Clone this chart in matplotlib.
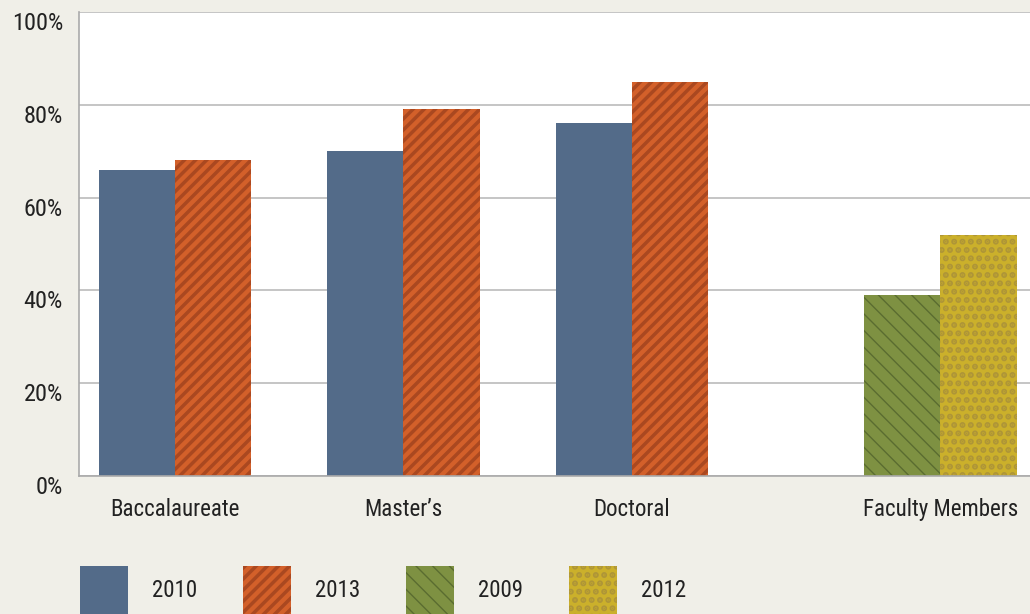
import matplotlib
matplotlib.use("Agg")
import os
import matplotlib.pyplot as plt
import matplotlib.transforms as mtransforms
from matplotlib import font_manager

# ---------------- data ----------------
categories = ["Baccalaureate", "Master\u2019s", "Doctoral", "Faculty Members"]
student_cats = ["Baccalaureate", "Master\u2019s", "Doctoral"]
faculty_cats = ["Faculty Members"]
values_2010 = [66, 70, 76]
values_2013 = [68, 79, 85]
values_2009 = [39]
values_2012 = [52]
series_labels = ["2010", "2013", "2009", "2012"]
y_ticks = [0, 20, 40, 60, 80, 100]

# ---------------- fonts ----------------
files = [f.fname for f in font_manager.fontManager.ttflist]
prefs = ["robotocondensed-regular", "roboto_condensed-regular", "liberationsansnarrow-regular",
         "opensans_condensed-regular", "opensans-condensed", "notosans-condensed.",
         "dejavusanscondensed.ttf"]
chosen = None
for p in prefs:
    for fn in files:
        if p in os.path.basename(fn).lower():
            chosen = fn
            break
    if chosen:
        break
if chosen is None:
    for fn in files:
        b = os.path.basename(fn).lower()
        if ("condensed" in b or "narrow" in b) and not any(k in b for k in ["bold", "italic", "light", "oblique", "thin", "black", "medium", "semi", "extra"]):
            chosen = fn
            break
FS = 16.5
FSPX = FS * 100 / 72
def fp(size=FS):
    if chosen:
        return font_manager.FontProperties(fname=chosen, size=size)
    return font_manager.FontProperties(family="DejaVu Sans", stretch="condensed", size=size)

BG = "#F0EFE8"
TXT = "#222222"
C2010 = "#536B89"
C2013 = "#D3602A"
C2013H = "#AA4820"
C2009 = "#7E9142"
C2009H = "#5A6C30"
C2012 = "#CBB02B"
C2012H = "#AE9538"

W, H = 1030, 614
fig = plt.figure(figsize=(W / 100, H / 100), dpi=100, facecolor=BG)
ax = fig.add_axes([79 / W, 1 - 476 / H, 1 - 79 / W, (476 - 12) / H])
ax.set_facecolor("white")

cat_pos = {"Baccalaureate": 0.0, "Master\u2019s": 1.0, "Doctoral": 2.0, "Faculty Members": 3.35}
bw = 0.333
HLW = [1.0, 2.5, 1.0, 3.0]

def hbars(x, h, color, hatch, hcolor, hlw, label):
    with plt.rc_context({"hatch.linewidth": hlw}):
        bars = ax.bar(x, h, width=bw, color=color, edgecolor=hcolor if hatch else color,
                      linewidth=0, hatch=hatch, label=label, zorder=3)
    for b in bars:
        if hasattr(b, "set_hatch_linewidth"):
            b.set_hatch_linewidth(hlw)
    return bars

sx = [cat_pos[c] for c in student_cats]
fx = [cat_pos[c] for c in faculty_cats]
b1 = hbars([p - bw / 2 for p in sx], values_2010, C2010, None, None, HLW[0], series_labels[0])
b2 = hbars([p + bw / 2 for p in sx], values_2013, C2013, "///", C2013H, HLW[1], series_labels[1])
b3 = hbars([p - bw / 2 for p in fx], values_2009, C2009, "\\\\", C2009H, HLW[2], series_labels[2])
b4 = hbars([p + bw / 2 for p in fx], values_2012, C2012, "..", C2012H, HLW[3], series_labels[3])

ax.set_xlim(-0.42, 3.742)
ax.set_ylim(0, 100)
ax.set_yticks(y_ticks)
ax.yaxis.grid(True, color="#BBBBBB", linewidth=1.2, zorder=0)
ax.set_axisbelow(True)
ax.tick_params(axis="both", length=0)
ax.set_yticklabels([])
for s in ["top", "right"]:
    ax.spines[s].set_visible(False)
for s in ["left", "bottom"]:
    ax.spines[s].set_color("#AAAAAA")
    ax.spines[s].set_linewidth(1.2)
    ax.spines[s].set_zorder(4)

# y tick labels (top of digits aligned near gridline)
ytrans = mtransforms.blended_transform_factory(ax.transAxes, ax.transData) + \
    mtransforms.ScaledTranslation(-16 / 100, -18 / 100, fig.dpi_scale_trans)
for v in y_ticks:
    ax.text(0, v, f"{v}%", transform=ytrans, ha="right", va="baseline",
            fontproperties=fp(17.5), color=TXT, clip_on=False)

ax.set_xticks([cat_pos[c] for c in categories])
ax.set_xticklabels(categories, color=TXT)
for lbl in ax.get_xticklabels():
    lbl.set_fontproperties(fp())
ax.tick_params(axis="x", pad=16)

handles = [b1, b2, b3, b4]
leg = fig.legend(handles=handles, labels=series_labels, loc="upper left",
                 bbox_to_anchor=(80 / W, 1 - 566 / H), ncol=4, frameon=False,
                 prop=fp(), handlelength=48 / FSPX, handleheight=2.9,
                 handletextpad=24 / FSPX, columnspacing=46 / FSPX, borderpad=0, borderaxespad=0,
                 labelcolor=TXT)
for h, lw in zip(leg.legend_handles, HLW):
    if hasattr(h, "set_hatch_linewidth"):
        h.set_hatch_linewidth(lw)

fig.savefig("out.png", dpi=100, facecolor=BG)
